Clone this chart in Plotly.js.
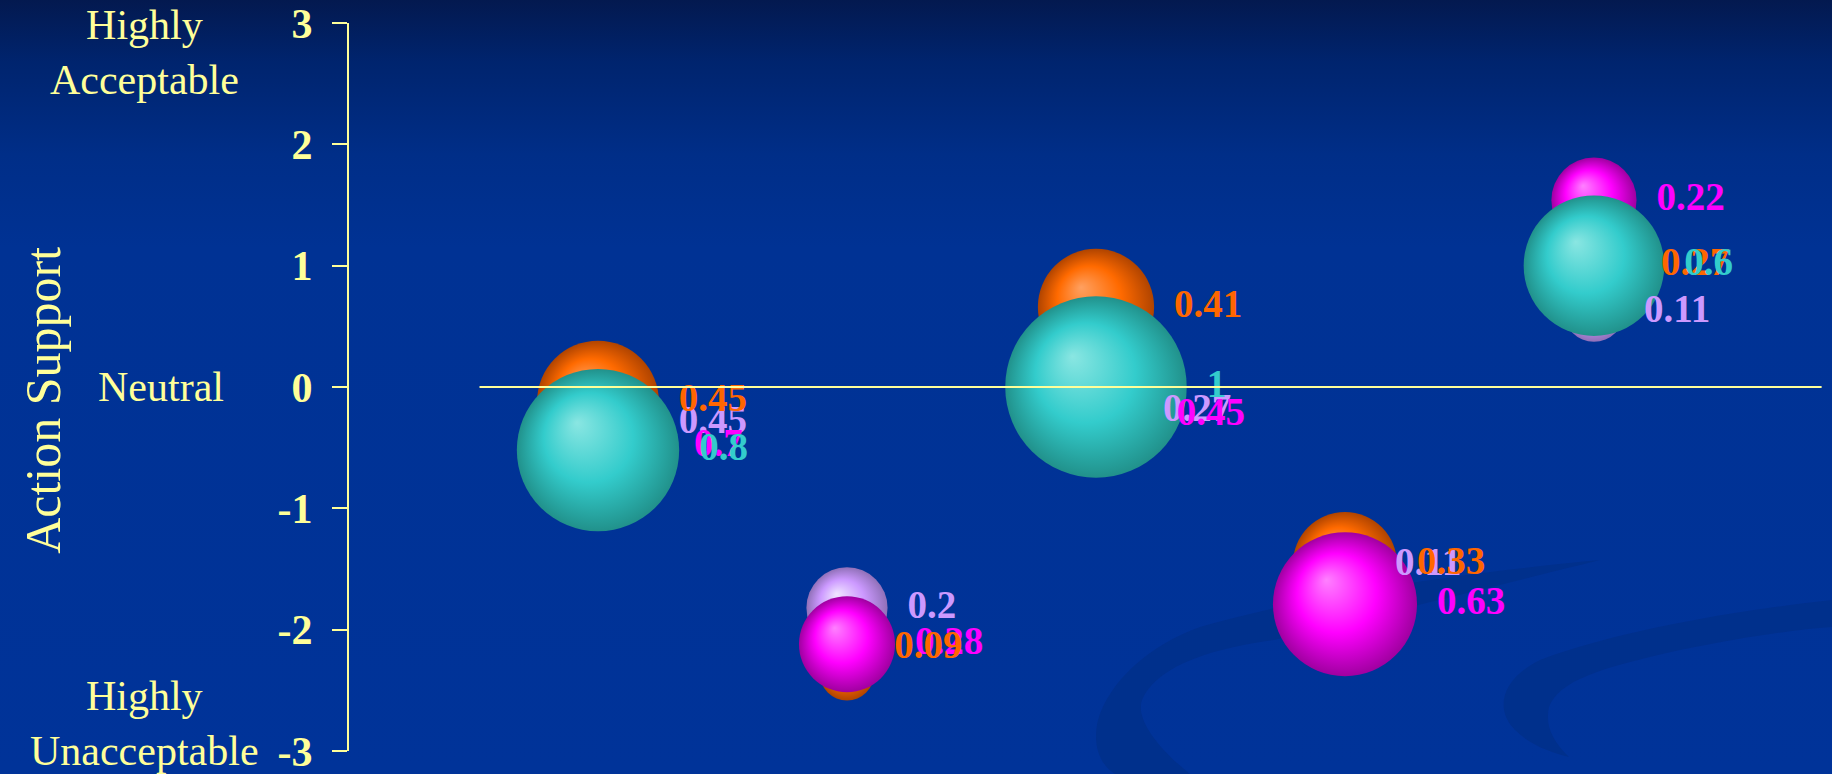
<!DOCTYPE html>
<html>
<head>
<meta charset="utf-8">
<script src="https://cdn.plot.ly/plotly-3.0.1.min.js"></script>
<style>
  html, body { margin: 0; padding: 0; width: 1832px; height: 774px; overflow: hidden; }
  #bg { position: absolute; left: 0; top: 0; }
  #chart { position: absolute; left: 0; top: 0; width: 1832px; height: 774px; }
</style>
</head>
<body>
<svg id="bg" width="1832" height="774" xmlns="http://www.w3.org/2000/svg">
  <defs>
    <linearGradient id="bgGrad" x1="0" y1="0" x2="0" y2="1">
      <stop offset="0%" stop-color="#03194f"/>
      <stop offset="8%" stop-color="#00246e"/>
      <stop offset="20%" stop-color="#002e88"/>
      <stop offset="32%" stop-color="#003294"/>
      <stop offset="100%" stop-color="#003399"/>
    </linearGradient>
  </defs>
  <rect x="0" y="0" width="1832" height="774" fill="url(#bgGrad)"/>
  <path d="M1600,560 C1440,575 1300,598 1200,627 C1150,645 1110,680 1098,720 C1092,745 1100,765 1115,774 L1190,774 C1160,750 1135,720 1142,700 C1155,670 1200,650 1274,640 C1390,612 1500,585 1600,560 Z" fill="#00308c"/>
  <path d="M1832,600 C1740,610 1620,630 1540,660 C1500,680 1495,710 1515,730 C1530,745 1550,752 1569,757 C1552,740 1545,725 1549,707 C1560,680 1600,668 1680,650 C1740,638 1790,630 1832,627 Z" fill="#00308c"/>
</svg>
<div id="chart"></div>
<script>
// Categories (five positions along the hidden x axis)
var categories = [1, 2, 3, 4, 5];

// Series: bubble sizes (shown as labels) and Action Support values
var orangeSize   = [0.45, 0.09, 0.41, 0.33, 0.27];
var orangeY      = [-0.12, -2.36, 0.66, -1.46, 1.0];
var lavenderSize = [0.45, 0.2, 0.27, 0.11, 0.11];
var lavenderY    = [-0.3, -1.82, -0.2, -1.47, 0.62];
var magentaSize  = [0.7, 0.28, 0.45, 0.63, 0.22];
var magentaY     = [-0.49, -2.12, -0.23, -1.79, 1.54];
var cyanSize     = [0.8, null, 1, null, 0.6];
var cyanY        = [-0.52, null, 0, null, 1.0];

// Y axis ticks
var yTickVals = [-3, -2, -1, 0, 1, 2, 3];
var yTickText = ['-3', '-2', '-1', '0', '1', '2', '3'];

var SERIF = 'Liberation Serif, Times New Roman, serif';
var YELLOW = '#ffff99';
var SIZEREF = 2 * 1 / (181.5 * 181.5);
var LABEL_GAP = 20;

var styles = {
  orange:   {edge: '#b04400', main: '#ff6a00', center: '#ffa060', label: '#ff6600'},
  lavender: {edge: '#9070b8', main: '#cc99ff', center: '#f0e4ff', label: '#cc99ff'},
  magenta:  {edge: '#a000a0', main: '#ff00ff', center: '#ff80ff', label: '#ff00ff'},
  cyan:     {edge: '#21918b', main: '#33cccc', center: '#8ae6e2', label: '#33cccc'}
};

function bubble(name, ys, sizes) {
  var s = styles[name];
  return {
    type: 'scatter', mode: 'markers', name: name,
    x: categories, y: ys,
    marker: {
      size: sizes, sizemode: 'area', sizeref: SIZEREF, opacity: 1,
      color: s.edge, line: {width: 0},
      gradient: {type: 'radial', color: s.center}
    },
    hoverinfo: 'skip', showlegend: false
  };
}
function labels(name, ys, sizes, templates) {
  var s = styles[name];
  return {
    type: 'scatter', mode: 'markers+text', name: name + ' labels',
    x: categories, y: ys,
    text: sizes.map(function (v) { return v === null ? '' : String(v); }),
    texttemplate: templates || '%{text}',
    textposition: 'middle right',
    textfont: {family: SERIF, size: 39, color: s.label, weight: 'bold'},
    marker: {size: sizes, sizemode: 'area', sizeref: SIZEREF, opacity: 1,
             color: 'rgba(0,0,0,0)', line: {width: 0}},
    hoverinfo: 'skip', showlegend: false, cliponaxis: false
  };
}

var data = [
  bubble('lavender', lavenderY, lavenderSize),
  bubble('orange', orangeY, orangeSize),
  bubble('magenta', magentaY, magentaSize),
  bubble('cyan', cyanY, cyanSize),
  labels('lavender', lavenderY, lavenderSize),
  labels('magenta', magentaY, magentaSize),
  // the second orange label sits a little above its bubble in the original
  labels('orange', orangeY, orangeSize,
         ['%{text}', '%{text}<br> ', '%{text}', '%{text}', '%{text}']),
  labels('cyan', cyanY, cyanSize)
];

var layout = {
  width: 1832, height: 774,
  margin: {l: 349, r: 0, t: 23, b: 23, pad: 0},
  paper_bgcolor: 'rgba(0,0,0,0)',
  plot_bgcolor: 'rgba(0,0,0,0)',
  hovermode: false,
  showlegend: false,
  xaxis: {range: [0, 5.956], visible: false, fixedrange: true},
  yaxis: {
    range: [-3, 3], tickvals: yTickVals, ticktext: yTickText,
    showline: true, linecolor: YELLOW, linewidth: 2,
    ticks: 'outside', ticklen: 15, tickwidth: 2, tickcolor: YELLOW,
    ticklabelstandoff: 11, ticklabeloverflow: 'allow',
    tickfont: {family: SERIF, size: 42, color: YELLOW, weight: 'bold'},
    showgrid: false, zeroline: false, fixedrange: true
  },
  shapes: [{
    type: 'line', xref: 'paper', yref: 'y', x0: 0.088, x1: 0.993, y0: 0, y1: 0,
    line: {color: YELLOW, width: 2}, layer: 'above'
  }],
  annotations: [
    {xref: 'paper', yref: 'y', x: -0.138, y: 2.76, text: 'Highly<br>Acceptable', showarrow: false,
     font: {family: SERIF, size: 42, color: YELLOW}, xanchor: 'center', yanchor: 'middle'},
    {xref: 'paper', yref: 'y', x: -0.127, y: 0, text: 'Neutral', showarrow: false,
     font: {family: SERIF, size: 42, color: YELLOW}, xanchor: 'center', yanchor: 'middle'},
    {xref: 'paper', yref: 'y', x: -0.138, y: -2.77, text: 'Highly<br>Unacceptable', showarrow: false,
     font: {family: SERIF, size: 42, color: YELLOW}, xanchor: 'center', yanchor: 'middle'},
    {xref: 'paper', yref: 'y', x: -0.206, y: -0.11, text: 'Action Support', showarrow: false,
     textangle: -90, font: {family: SERIF, size: 50, color: YELLOW}, xanchor: 'center', yanchor: 'middle'}
  ]
};

function rgbKey(c) {
  if (!c) return '';
  c = c.trim();
  if (c[0] === '#') {
    var h = c.slice(1);
    if (h.length === 3) h = h[0] + h[0] + h[1] + h[1] + h[2] + h[2];
    return [0, 2, 4].map(function (i) { return parseInt(h.substr(i, 2), 16); }).join(',');
  }
  var m = c.match(/(\d+)\D+(\d+)\D+(\d+)/);
  return m ? [m[1], m[2], m[3]].join(',') : '';
}

Plotly.newPlot('chart', data, layout, {staticPlot: true, displayModeBar: false}).then(function (gd) {
  // off-centre highlight and a saturated middle band for a 3-D bubble look
  var edgeToMain = {};
  Object.keys(styles).forEach(function (k) { edgeToMain[rgbKey(styles[k].edge)] = styles[k].main; });
  gd.querySelectorAll('radialGradient').forEach(function (g) {
    g.setAttribute('fx', '0.37');
    g.setAttribute('fy', '0.33');
    var stops = g.querySelectorAll('stop');
    var main = null, edgeStop = null;
    stops.forEach(function (st) {
      var k = rgbKey(st.getAttribute('stop-color'));
      if (edgeToMain[k]) { main = edgeToMain[k]; edgeStop = st; }
    });
    if (main && edgeStop) {
      var edgeOff = parseFloat(edgeStop.getAttribute('offset'));
      var isPct = String(edgeStop.getAttribute('offset')).indexOf('%') >= 0;
      var centreAtZero = edgeOff > (isPct ? 50 : 0.5);
      var mid = document.createElementNS('http://www.w3.org/2000/svg', 'stop');
      mid.setAttribute('offset', centreAtZero ? '55%' : '45%');
      mid.setAttribute('stop-color', main);
      if (centreAtZero) g.insertBefore(mid, edgeStop); else g.insertBefore(mid, edgeStop.nextSibling);
    }
  });
  // keep a constant gap between each bubble's edge and its label
  gd.querySelectorAll('g.textpoint').forEach(function (tp) {
    var tr = tp.getAttribute('transform') || '';
    var m = tr.match(/translate\(\s*([-\d.eE]+)[ ,]+([-\d.eE]+)\s*\)/);
    if (!m) return;
    var dx = parseFloat(m[1]), dy = parseFloat(m[2]);
    var r = (dx - 1) * 0.8;
    tp.setAttribute('transform', 'translate(' + (r + LABEL_GAP) + ',' + dy + ')');
  });
});
</script>
</body>
</html>
